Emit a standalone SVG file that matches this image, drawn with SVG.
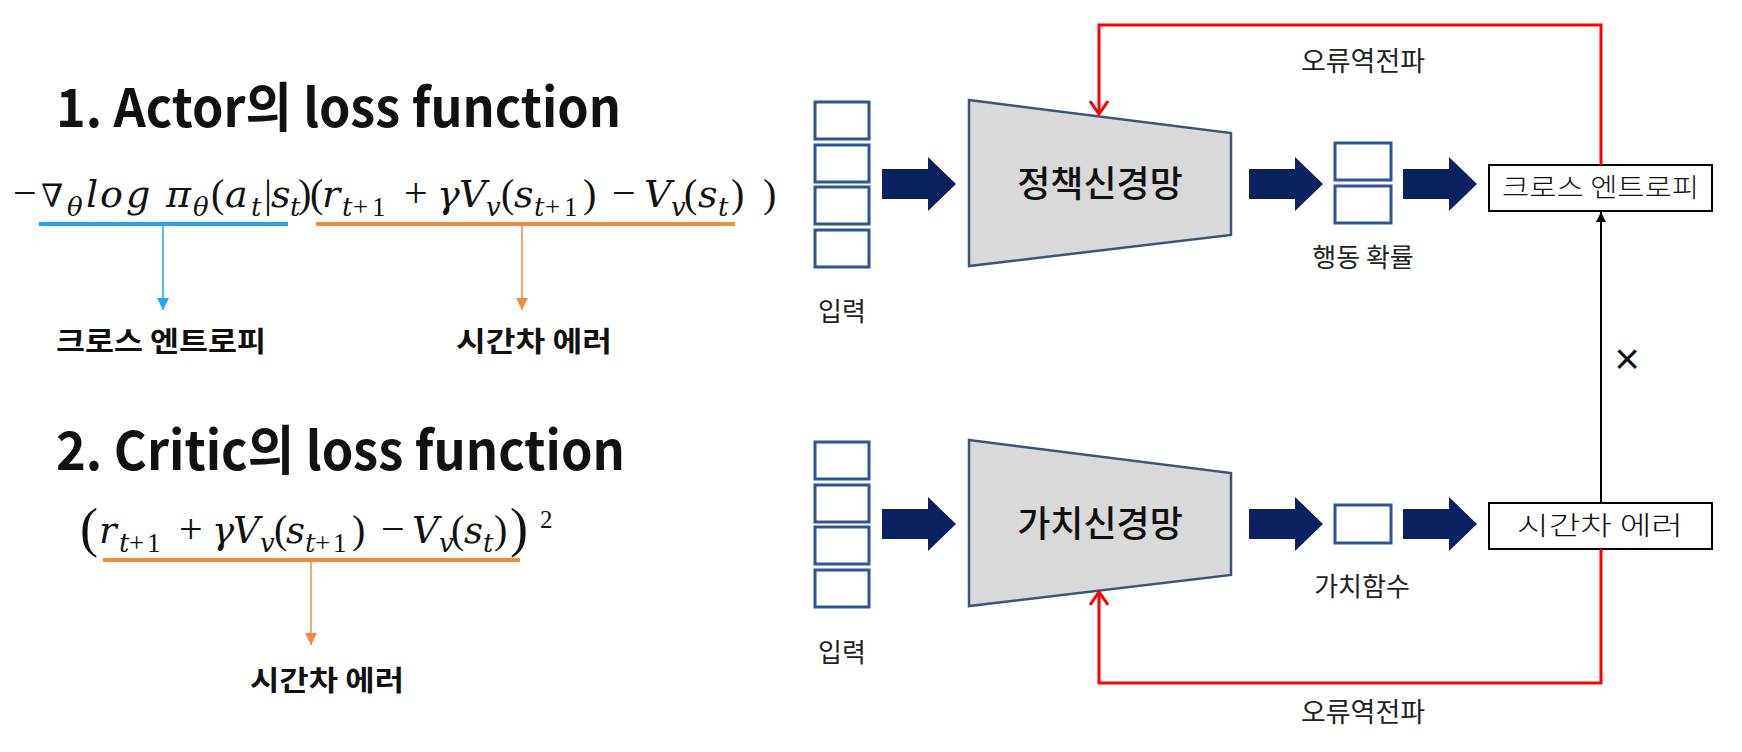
<svg xmlns="http://www.w3.org/2000/svg" width="1742" height="752" viewBox="0 0 1742 752">
<style>
.h{font-family:"Noto Sans CJK KR","Noto Sans",sans-serif;font-weight:700;font-size:53px;fill:#111}
.kb{font-family:"Noto Sans CJK KR",sans-serif;font-weight:700;font-size:28px;fill:#111}
.m{font-family:"DejaVu Serif","Liberation Serif",serif;font-style:italic;font-size:38px;fill:#111}
.m2{font-family:"DejaVu Serif","Liberation Serif",serif;font-style:italic;font-size:37px;fill:#111}
.u{font-family:"Liberation Serif","DejaVu Serif",serif;font-style:normal;font-size:40px}
.op{font-family:"Liberation Serif","DejaVu Serif",serif;font-style:normal;font-size:42px}
.s{font-size:26px}
.su{font-family:"Liberation Serif","DejaVu Serif",serif;font-style:normal;font-size:27px}
.nab{font-size:32px}
.bp{font-family:"Liberation Serif",serif;font-size:54px;font-style:normal}
.lbl{font-family:"Noto Sans CJK KR",sans-serif;font-size:26px;fill:#222;text-anchor:middle}
.bt{font-family:"Noto Sans CJK KR",sans-serif;font-weight:300;font-size:26px;fill:#111}
.net{font-family:"Noto Sans CJK KR",sans-serif;font-weight:500;font-size:36px;fill:#111;text-anchor:middle}
.inbox{fill:#fff;stroke:#2F5496;stroke-width:3}
.trap{fill:#D9D9D9;stroke:#3B5577;stroke-width:2.5}
.blk{fill:#0B2160}
.box{fill:#fff;stroke:#000;stroke-width:2}
.red{fill:none;stroke:#FF0000;stroke-width:3}
.ul-b{stroke:#1EA7EA;stroke-width:4}
.ul-o{stroke:#F08A3C;stroke-width:4}
.ln-b{stroke:#1EA7EA;stroke-width:1.5;fill:none}
.ln-o{stroke:#F08A3C;stroke-width:1.5;fill:none}
.ln-k{stroke:#000;stroke-width:2;fill:none}
</style>
<defs>
<marker id="mb" markerUnits="userSpaceOnUse" markerWidth="12" markerHeight="12" viewBox="0 0 12 12" refX="12" refY="6" orient="auto"><path d="M0,0 L12,6 L0,12 Z" fill="#1EA7EA"/></marker>
<marker id="mo" markerUnits="userSpaceOnUse" markerWidth="12" markerHeight="12" viewBox="0 0 12 12" refX="12" refY="6" orient="auto"><path d="M0,0 L12,6 L0,12 Z" fill="#F08A3C"/></marker>
<marker id="mk" markerUnits="userSpaceOnUse" markerWidth="10" markerHeight="10" viewBox="0 0 10 10" refX="10" refY="5" orient="auto"><path d="M0,0 L10,5 L0,10 Z" fill="#000"/></marker>
<marker id="mr" markerUnits="userSpaceOnUse" markerWidth="16" markerHeight="20" viewBox="0 0 16 20" refX="14" refY="10" orient="auto"><path d="M1,1 L14,10 L1,19" fill="none" stroke="#FF0000" stroke-width="3"/></marker>
</defs>

<g id="actor-title"><text class="h" x="56" y="127" textLength="565" lengthAdjust="spacingAndGlyphs">1. Actor의 loss function</text></g>

<g id="actor-formula">
<text class="m">
<tspan class="op" x="13" y="207">−</tspan><tspan class="nab" x="41" y="207">∇</tspan><tspan class="s" x="67" y="216">θ</tspan><tspan x="86" y="207">l</tspan><tspan x="100" y="207">o</tspan><tspan x="126" y="207">g</tspan><tspan x="166" y="207">π</tspan><tspan class="s" x="193" y="216">θ</tspan><tspan class="u" x="211" y="207">(</tspan><tspan x="225" y="207">a</tspan><tspan class="s" x="251" y="216">t</tspan><tspan class="u" x="264" y="207">|</tspan><tspan x="271" y="207">s</tspan><tspan class="s" x="290" y="216">t</tspan><tspan class="u" x="298" y="207">)</tspan><tspan class="u" x="310" y="207">(</tspan><tspan x="322" y="207">r</tspan><tspan class="s" x="342" y="216">t</tspan><tspan class="su" x="353" y="216">+</tspan><tspan class="su" x="372" y="216">1</tspan><tspan class="op" x="404" y="207">+</tspan><tspan x="437" y="207">γ</tspan><tspan x="459" y="207">V</tspan><tspan class="s" x="486" y="216">v</tspan><tspan class="u" x="501" y="207">(</tspan><tspan x="514" y="207">s</tspan><tspan class="s" x="534" y="216">t</tspan><tspan class="su" x="545" y="216">+</tspan><tspan class="su" x="564" y="216">1</tspan><tspan class="u" x="583" y="207">)</tspan><tspan class="op" x="612" y="207">−</tspan><tspan x="644" y="207">V</tspan><tspan class="s" x="671" y="216">v</tspan><tspan class="u" x="684" y="207">(</tspan><tspan x="698" y="207">s</tspan><tspan class="s" x="718" y="216">t</tspan><tspan class="u" x="731" y="207">)</tspan><tspan class="u" x="763" y="207">)</tspan>
</text>
</g>

<g id="actor-labels">
<text class="kb" x="56" y="352" textLength="210" lengthAdjust="spacingAndGlyphs">크로스 엔트로피</text>
<text class="kb" x="456" y="352" textLength="156" lengthAdjust="spacingAndGlyphs">시간차 에러</text>
</g>

<g id="critic-title"><text class="h" x="56" y="470" textLength="569" lengthAdjust="spacingAndGlyphs">2. Critic의 loss function</text></g>

<g id="critic-formula">
<text class="m2">
<tspan class="bp" x="80" y="546">(</tspan><tspan x="99" y="543">r</tspan><tspan class="s" x="119" y="552">t</tspan><tspan class="su" x="129" y="552">+</tspan><tspan class="su" x="147" y="552">1</tspan><tspan class="op" x="179" y="543">+</tspan><tspan x="212" y="543">γ</tspan><tspan x="233" y="543">V</tspan><tspan class="s" x="260" y="552">v</tspan><tspan class="u" x="274" y="543">(</tspan><tspan x="286" y="543">s</tspan><tspan class="s" x="305" y="552">t</tspan><tspan class="su" x="315" y="552">+</tspan><tspan class="su" x="333" y="552">1</tspan><tspan class="u" x="352" y="543">)</tspan><tspan class="op" x="381" y="543">−</tspan><tspan x="412" y="543">V</tspan><tspan class="s" x="439" y="552">v</tspan><tspan class="u" x="451" y="543">(</tspan><tspan x="464" y="543">s</tspan><tspan class="s" x="483" y="552">t</tspan><tspan class="u" x="494" y="543">)</tspan><tspan class="bp" x="510" y="546">)</tspan><tspan class="su" style="font-size:25px" x="540" y="528">2</tspan>
</text>
</g>

<g id="critic-labels">
<text class="kb" x="250" y="691" textLength="154" lengthAdjust="spacingAndGlyphs">시간차 에러</text>
</g>

<g id="policy-input">
<rect class="inbox" x="815" y="102" width="54" height="37"/>
<rect class="inbox" x="815" y="145" width="54" height="37"/>
<rect class="inbox" x="815" y="187" width="54" height="37"/>
<rect class="inbox" x="815" y="230" width="54" height="37"/>
<text class="lbl" x="842" y="321">입력</text>
</g>
<g id="policy-net">
<polygon class="trap" points="969,100 1231,133 1231,235 969,266"/>
<text class="net" x="1100" y="197">정책신경망</text>
</g>
<g id="policy-output">
<rect class="inbox" x="1335" y="143" width="56" height="37"/>
<rect class="inbox" x="1335" y="186" width="56" height="37"/>
<text class="lbl" x="1363" y="267">행동 확률</text>
</g>
<g id="cross-entropy">
<rect class="box" x="1489" y="165" width="223" height="46"/>
<text class="bt" x="1502" y="197" textLength="197" lengthAdjust="spacingAndGlyphs">크로스 엔트로피</text>
</g>

<g id="value-input">
<rect class="inbox" x="815" y="442" width="54" height="37"/>
<rect class="inbox" x="815" y="485" width="54" height="37"/>
<rect class="inbox" x="815" y="527" width="54" height="37"/>
<rect class="inbox" x="815" y="570" width="54" height="37"/>
<text class="lbl" x="842" y="662">입력</text>
</g>
<g id="value-net">
<polygon class="trap" points="969,440 1231,473 1231,575 969,606"/>
<text class="net" x="1100" y="537">가치신경망</text>
</g>
<g id="value-output">
<rect class="inbox" x="1335" y="505" width="56" height="38"/>
<text class="lbl" x="1362" y="596">가치함수</text>
</g>
<g id="td-error">
<rect class="box" x="1489" y="503" width="223" height="46"/>
<text class="bt" x="1517" y="535" textLength="166" lengthAdjust="spacingAndGlyphs">시간차 에러</text>
</g>

<g id="labels">
<text class="lbl" x="1363" y="71" style="font-size:27px">오류역전파</text>
<text class="lbl" x="1363" y="722" style="font-size:27px">오류역전파</text>
<text x="1627" y="374" style="font-family:'Liberation Sans',sans-serif;font-size:44px;fill:#111;text-anchor:middle">×</text>
</g>

<g id="connectors">
<line class="ul-b" x1="39" y1="224" x2="288" y2="224"/>
<line class="ul-o" x1="316" y1="224" x2="735" y2="224"/>
<line class="ul-o" x1="103" y1="560" x2="520" y2="560"/>
<line class="ln-b" x1="163" y1="226" x2="163" y2="310" marker-end="url(#mb)"/>
<line class="ln-o" x1="522" y1="226" x2="522" y2="310" marker-end="url(#mo)"/>
<line class="ln-o" x1="311" y1="562" x2="311" y2="645" marker-end="url(#mo)"/>
<path class="blk" d="M882,169 H928 V157 L956,184 L928,211 V199 H882 Z"/>
<path class="blk" d="M1249,169 H1295 V157 L1323,184 L1295,211 V199 H1249 Z"/>
<path class="blk" d="M1403,169 H1449 V157 L1477,184 L1449,211 V199 H1403 Z"/>
<path class="blk" d="M882,509 H928 V497 L956,524 L928,551 V539 H882 Z"/>
<path class="blk" d="M1249,509 H1295 V497 L1323,524 L1295,551 V539 H1249 Z"/>
<path class="blk" d="M1403,509 H1449 V497 L1477,524 L1449,551 V539 H1403 Z"/>
<path class="red" d="M1601,165 V25 H1099 V114" marker-end="url(#mr)"/>
<path class="red" d="M1601,549 V683 H1099 V592" marker-end="url(#mr)"/>
<line class="ln-k" x1="1601" y1="503" x2="1601" y2="212" marker-end="url(#mk)"/>
</g>
</svg>
